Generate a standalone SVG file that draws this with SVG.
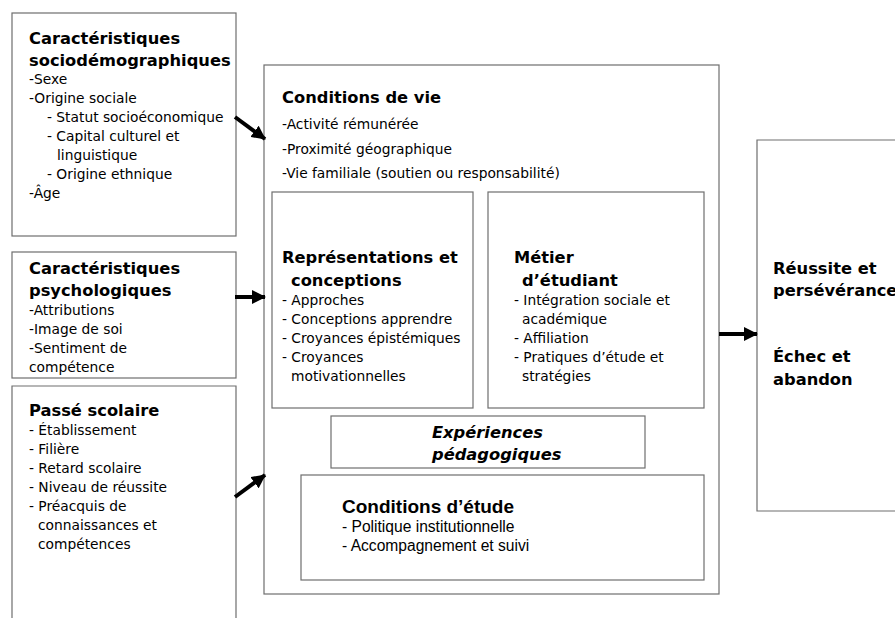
<svg xmlns="http://www.w3.org/2000/svg" width="895" height="618" viewBox="0 0 895 618">
<defs>
<marker id="ah" markerUnits="userSpaceOnUse" markerWidth="14" markerHeight="14" viewBox="0 0 14 14" refX="13" refY="7" orient="auto">
<path d="M0,0 L14,7 L0,14 Z" fill="#000"/>
</marker>
<style>
.box{fill:#fff;stroke:#6e6e6e;stroke-width:1.2}
.h{font-family:"DejaVu Sans",Verdana,sans-serif;font-weight:bold;font-size:16.3px;fill:#000}
.t{font-family:"DejaVu Sans",Verdana,sans-serif;font-size:13.8px;fill:#000}
.hi{font-family:"DejaVu Sans",Verdana,sans-serif;font-weight:bold;font-style:italic;font-size:16.3px;fill:#000}
.ah{font-family:"Liberation Sans",Arial,sans-serif;font-weight:bold;font-size:19px;fill:#000}
.at{font-family:"Liberation Sans",Arial,sans-serif;font-size:15.6px;fill:#000}
.c{stroke:#000;stroke-width:4;fill:none;marker-end:url(#ah)}
</style>
</defs>
<rect width="895" height="618" fill="#fff"/>

<g id="socio">
<rect class="box" x="12" y="13" width="224" height="223"/>
<text class="h" x="29" y="44">Caractéristiques</text>
<text class="h" x="29" y="66">sociodémographiques</text>
<text class="t" x="29" y="84">-Sexe</text>
<text class="t" x="29" y="103">-Origine sociale</text>
<text class="t" x="47" y="122">- Statut socioéconomique</text>
<text class="t" x="47" y="141">- Capital culturel et</text>
<text class="t" x="57" y="160">linguistique</text>
<text class="t" x="47" y="179">- Origine ethnique</text>
<text class="t" x="29" y="198">-Âge</text>
</g>

<g id="psycho">
<rect class="box" x="12" y="252" width="224" height="126"/>
<text class="h" x="29" y="274">Caractéristiques</text>
<text class="h" x="29" y="296">psychologiques</text>
<text class="t" x="29" y="315">-Attributions</text>
<text class="t" x="29" y="334">-Image de soi</text>
<text class="t" x="29" y="353">-Sentiment de</text>
<text class="t" x="29" y="372">compétence</text>
</g>

<g id="passe">
<path class="box" d="M12,625 L12,386 L236,386 L236,625"/>
<text class="h" x="29" y="416">Passé scolaire</text>
<text class="t" x="29" y="435">- Établissement</text>
<text class="t" x="29" y="454">- Filière</text>
<text class="t" x="29" y="473">- Retard scolaire</text>
<text class="t" x="29" y="492">- Niveau de réussite</text>
<text class="t" x="29" y="511">- Préacquis de</text>
<text class="t" x="38" y="530">connaissances et</text>
<text class="t" x="38" y="549">compétences</text>
</g>

<g id="vie">
<rect class="box" x="264" y="65" width="455" height="529"/>
<text class="h" x="282" y="103">Conditions de vie</text>
<text class="t" x="282" y="129">-Activité rémunérée</text>
<text class="t" x="282" y="154">-Proximité géographique</text>
<text class="t" x="282" y="178">-Vie familiale (soutien ou responsabilité)</text>
</g>

<g id="representations">
<rect class="box" x="272" y="192" width="201" height="216"/>
<text class="h" x="282" y="263">Représentations et</text>
<text class="h" x="291" y="286">conceptions</text>
<text class="t" x="282" y="305">- Approches</text>
<text class="t" x="282" y="324">- Conceptions apprendre</text>
<text class="t" x="282" y="343">- Croyances épistémiques</text>
<text class="t" x="282" y="362">- Croyances</text>
<text class="t" x="291" y="381">motivationnelles</text>
</g>

<g id="metier">
<rect class="box" x="488" y="192" width="216" height="216"/>
<text class="h" x="514" y="263">Métier</text>
<text class="h" x="522" y="286">d’étudiant</text>
<text class="t" x="514" y="305">- Intégration sociale et</text>
<text class="t" x="522" y="324">académique</text>
<text class="t" x="514" y="343">- Affiliation</text>
<text class="t" x="514" y="362">- Pratiques d’étude et</text>
<text class="t" x="522" y="381">stratégies</text>
</g>

<g id="experiences">
<rect class="box" x="331" y="416" width="314" height="52"/>
<text class="hi" x="432" y="438">Expériences</text>
<text class="hi" x="432" y="460">pédagogiques</text>
</g>

<g id="etude">
<rect class="box" x="301" y="475" width="403" height="105"/>
<text class="ah" x="342" y="513">Conditions d’étude</text>
<text class="at" x="342" y="532">- Politique institutionnelle</text>
<text class="at" x="342" y="551">- Accompagnement et suivi</text>
</g>

<g id="resultat">
<path class="box" d="M900,140 L757,140 L757,511 L900,511"/>
<text class="h" x="773" y="274">Réussite et</text>
<text class="h" x="773" y="296">persévérance</text>
<text class="h" x="773" y="362">Échec et</text>
<text class="h" x="773" y="385">abandon</text>
</g>

<g id="connectors">
<line class="c" x1="235" y1="117" x2="265" y2="139"/>
<line class="c" x1="235" y1="297" x2="265" y2="297"/>
<line class="c" x1="235" y1="497" x2="265" y2="475"/>
<line class="c" x1="719" y1="334" x2="757" y2="334"/>
</g>
</svg>
